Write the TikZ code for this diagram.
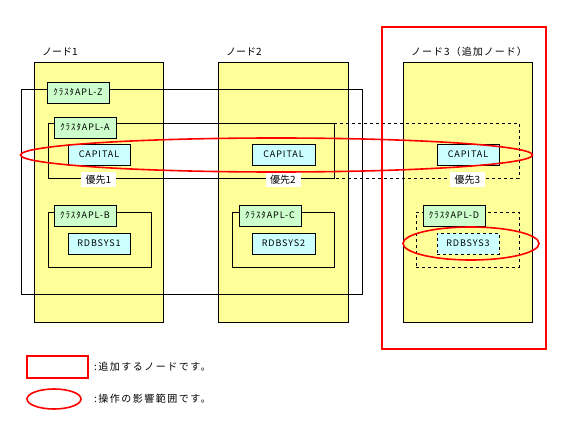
\documentclass[tikz,border=0pt]{standalone}
\usepackage{fontspec}
\setmainfont{Noto Sans CJK JP}
\newfontfamily\boxfont[LetterSpace=10]{Noto Sans CJK JP}
\newfontfamily\legfont[LetterSpace=15]{Noto Sans CJK JP}
\usetikzlibrary{shapes.geometric}
\definecolor{hostyellow}{RGB}{255,255,153}
\definecolor{clgreen}{RGB}{204,255,204}
\definecolor{rescyan}{RGB}{204,255,255}
\definecolor{opred}{RGB}{255,0,0}
\begin{document}
\begin{tikzpicture}[x=1pt,y=-1pt,
  box/.style={draw=black, line width=0.9pt, inner sep=0pt, outer sep=0pt, anchor=north west},
  hostbox/.style={box, fill=hostyellow},
  clrect/.style={box},
  cllabel/.style={box, fill=clgreen, font=\boxfont\fontsize{9}{10}\selectfont, minimum width=62pt, minimum height=21pt},
  resbox/.style={box, fill=rescyan, font=\boxfont\fontsize{9}{10}\selectfont, minimum width=62pt, minimum height=21pt},
  hosttitle/.style={anchor=west, inner sep=0pt, font=\fontsize{10}{12}\selectfont},
  prio/.style={fill=white, inner sep=1.5pt, minimum width=35pt, minimum height=15pt, font=\fontsize{10}{12}\selectfont},
  scopeell/.style={draw=opred, line width=1.6pt, ellipse, inner sep=0pt},
  addbox/.style={box, draw=opred, line width=1.6pt},
  legtext/.style={anchor=west, inner sep=0pt, font=\legfont\fontsize{10}{12}\selectfont}
]
\useasboundingbox (0,0) rectangle (568,433);
% host nodes
\node[hostbox, minimum width=129pt, minimum height=260pt] (h1) at (34,62) {};
\node[hostbox, minimum width=130pt, minimum height=260pt] (h2) at (218,62) {};
\node[hostbox, minimum width=129pt, minimum height=260pt] (h3) at (403,62) {};
\node[hosttitle] (t1) at (42,52) {ノード1};
\node[hosttitle] (t2) at (226,52) {ノード2};
\node[hosttitle, font=\boxfont\fontsize{10}{12}\selectfont] (t3) at (411,52) {ノード3（追加ノード）};
% cluster rectangles
\node[clrect, minimum width=341pt, minimum height=205pt] (cz) at (21,89) {};
\node[clrect, minimum width=286pt, minimum height=55pt] (ca) at (48,123) {};
\node[box, draw=none, minimum width=185pt, minimum height=55pt] (caext) at (334,123) {};
\draw[line width=0.9pt, dashed] (ca.north east) -- (caext.north east) -- (caext.south east) -- (ca.south east);
\node[clrect, minimum width=103pt, minimum height=55pt] (cb) at (48,212) {};
\node[clrect, minimum width=102pt, minimum height=55pt] (cc) at (232,212) {};
\node[clrect, dashed, minimum width=103pt, minimum height=55pt] (cd) at (416,212) {};
% cluster labels
\node[cllabel] (lz) at (47,82) {ｸﾗｽﾀAPL-Z};
\node[cllabel] (la) at (54,117) {ｸﾗｽﾀAPL-A};
\node[cllabel] (lb) at (54,205) {ｸﾗｽﾀAPL-B};
\node[cllabel] (lc) at (239,205) {ｸﾗｽﾀAPL-C};
\node[cllabel] (ld) at (423,205) {ｸﾗｽﾀAPL-D};
% resources
\node[resbox] (cap1) at (68,144) {CAPITAL};
\node[resbox, minimum width=63pt] (cap2) at (252,144) {CAPITAL};
\node[resbox] (cap3) at (437,144) {CAPITAL};
\node[resbox] (rdb1) at (68,233) {RDBSYS1};
\node[resbox, minimum width=63pt] (rdb2) at (252,233) {RDBSYS2};
\node[resbox, dashed] (rdb3) at (437,233) {RDBSYS3};
% priorities
\node[prio] (p1) at (98.5,179.5) {優先1};
\node[prio] (p2) at (283,179.5) {優先2};
\node[prio] (p3) at (467.5,179.5) {優先3};
% scope of operation
\node[scopeell, minimum width=512pt, minimum height=34pt] (e1) at (276.5,155) {};
\node[scopeell, minimum width=136pt, minimum height=33pt] (e2) at (471,243.5) {};
% added node
\node[addbox, minimum width=164pt, minimum height=322pt] (add) at (382,27) {};
% legend
\node[addbox, minimum width=61pt, minimum height=22pt] (legbox) at (27,356) {};
\node[legtext] (legt1) at (94,367) {:追加するノードです。};
\node[scopeell, minimum width=54pt, minimum height=20pt] (legell) at (54,399) {};
\node[legtext] (legt2) at (94,399) {:操作の影響範囲です。};
\end{tikzpicture}
\end{document}
